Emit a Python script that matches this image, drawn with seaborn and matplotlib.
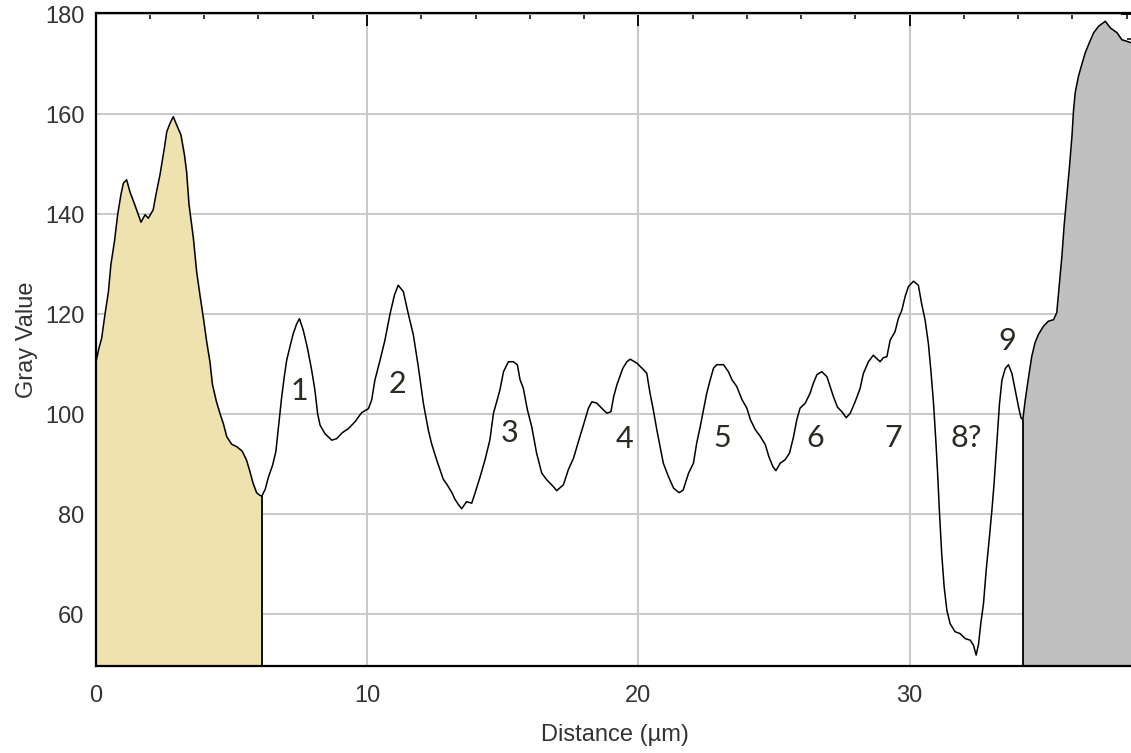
import numpy as np
import pandas as pd
import matplotlib
matplotlib.use("Agg")
import matplotlib.pyplot as plt
from matplotlib.ticker import MultipleLocator
import seaborn as sns

sns.set_style("white")
plt.rcParams['font.family'] = ['Liberation Sans', 'DejaVu Sans']

# profile
distance = [0.00, 0.12, 0.22, 0.34, 0.47, 0.56, 0.69, 0.81, 0.93, 1.02, 1.14, 1.26, 1.42, 1.55, 1.67,
            1.82, 1.94, 2.12, 2.22, 2.37, 2.53, 2.62, 2.74, 2.86, 2.98, 3.14, 3.27, 3.35, 3.44, 3.60,
            3.72, 3.84, 3.97, 4.09, 4.21, 4.30, 4.45, 4.60, 4.70, 4.83, 5.01, 5.20, 5.40, 5.56, 5.68,
            5.80, 5.93, 6.04, 6.12, 6.25, 6.36, 6.52, 6.64, 6.72, 6.78, 6.85, 6.95, 7.04, 7.16, 7.28,
            7.41, 7.51, 7.65, 7.81, 7.96, 8.08, 8.18, 8.27, 8.45, 8.70, 8.88, 9.09, 9.31, 9.56, 9.80,
            10.05, 10.17, 10.29, 10.48, 10.66, 10.85, 11.01, 11.15, 11.34, 11.52, 11.71, 11.89, 12.08,
            12.26, 12.38, 12.57, 12.81, 12.94, 13.12, 13.24, 13.37, 13.49, 13.67, 13.86, 13.98, 14.17,
            14.35, 14.53, 14.66, 14.78, 14.90, 15.03, 15.21, 15.39, 15.54, 15.64, 15.76, 15.91, 16.07,
            16.25, 16.44, 16.62, 16.87, 16.99, 17.24, 17.42, 17.61, 17.79, 17.98, 18.16, 18.29, 18.47,
            18.65, 18.84, 18.99, 19.09, 19.21, 19.43, 19.58, 19.70, 19.95, 20.19, 20.31, 20.43, 20.55,
            20.68, 20.80, 20.92, 21.11, 21.30, 21.50, 21.65, 21.85, 22.03, 22.15, 22.28, 22.40, 22.52,
            22.65, 22.77, 22.89, 23.14, 23.32, 23.45, 23.63, 23.82, 24.00, 24.13, 24.31, 24.50, 24.68,
            24.81, 24.96, 25.07, 25.23, 25.41, 25.57, 25.72, 25.84, 25.96, 26.15, 26.33, 26.45, 26.58,
            26.76, 26.95, 27.07, 27.19, 27.34, 27.50, 27.66, 27.81, 27.99, 28.17, 28.29, 28.48, 28.66,
            28.79, 28.91, 29.03, 29.16, 29.28, 29.46, 29.58, 29.71, 29.83, 29.95, 30.14, 30.32, 30.44,
            30.57, 30.69, 30.78, 30.88, 30.97, 31.03, 31.10, 31.18, 31.27, 31.37, 31.49, 31.67, 31.86,
            32.05, 32.23, 32.35, 32.45, 32.54, 32.62, 32.72, 32.82, 32.94, 33.03, 33.11, 33.21, 33.31,
            33.40, 33.52, 33.64, 33.77, 33.89, 34.01, 34.10, 34.17, 34.25, 34.37, 34.50, 34.62, 34.74,
            34.93, 35.11, 35.30, 35.42, 35.52, 35.61, 35.69, 35.79, 35.89, 35.98, 36.04, 36.10, 36.22,
            36.34, 36.47, 36.62, 36.78, 36.96, 37.21, 37.39, 37.64, 37.82, 38.00, 38.16]
gray = [110.2, 113.2, 115.2, 119.9, 124.5, 129.9, 134.5, 139.9, 143.9, 146.2, 146.9, 144.5, 142.2, 140.2, 138.4,
        139.9, 139.2, 140.9, 143.9, 147.9, 153.2, 156.5, 158.2, 159.5, 157.9, 155.9, 151.9, 148.5, 141.9, 135.2,
        128.5, 123.9, 119.2, 114.5, 110.5, 106.0, 102.5, 99.8, 98.2, 95.5, 94.0, 93.5, 92.6, 90.8, 88.6,
        86.2, 84.3, 83.8, 83.6, 85.0, 87.3, 89.8, 92.5, 96.5, 99.5, 103.2, 107.5, 110.8, 113.5, 116.1,
        118.1, 119.1, 116.8, 113.1, 108.8, 104.8, 100.1, 97.8, 96.1, 94.8, 95.1, 96.3, 97.1, 98.5, 100.3,
        101.1, 102.8, 106.8, 110.8, 114.8, 120.1, 123.8, 125.8, 124.5, 120.1, 115.8, 109.5, 102.1,
        96.8, 94.1, 90.8, 87.0, 86.0, 84.4, 83.0, 81.9, 81.1, 82.5, 82.2, 84.2, 87.5,
        90.9, 94.9, 100.2, 102.5, 104.9, 108.5, 110.5, 110.5, 109.9, 106.9, 105.2, 100.9, 97.5,
        92.2, 88.2, 86.9, 85.5, 84.7, 85.9, 88.9, 91.2, 94.5, 97.9, 101.2, 102.5, 102.2,
        101.2, 100.2, 100.5, 103.5, 105.9, 109.2, 110.5, 111.0, 110.2, 108.9, 108.2, 104.2, 100.9,
        96.9, 93.5, 90.2, 87.5, 85.2, 84.3, 84.8, 88.2, 90.2, 94.2, 97.5, 100.9, 104.2,
        106.9, 109.2, 109.9, 109.9, 108.5, 106.9, 105.5, 102.9, 101.2, 98.9, 96.9, 95.5, 93.9,
        91.5, 89.5, 88.7, 90.2, 90.9, 92.2, 95.5, 98.9, 101.2, 102.2, 104.2, 106.2, 107.9,
        108.5, 107.5, 105.5, 103.5, 101.4, 100.5, 99.3, 100.2, 102.5, 105.1, 108.1, 110.5, 111.8,
        111.1, 110.5, 111.3, 111.5, 114.8, 116.5, 119.1, 120.8, 123.5, 125.5, 126.6, 125.8, 122.1,
        118.8, 114.1, 108.8, 102.1, 94.1, 88.1, 80.1, 72.1, 65.5, 60.8, 58.1, 56.5, 56.1,
        55.1, 54.8, 53.8, 51.8, 54.1, 58.1, 62.1, 68.8, 75.5, 80.8, 86.1, 94.1, 102.1,
        106.8, 109.1, 109.9, 108.1, 104.8, 101.5, 99.3, 98.9, 102.5, 107.0, 111.6, 114.3, 115.9,
        117.6, 118.6, 118.9, 120.3, 126.3, 131.6, 137.6, 143.6, 149.6, 155.6, 160.9, 164.3, 167.6,
        169.9, 172.3, 174.3, 176.3, 177.6, 178.6, 177.3, 176.3, 174.9, 174.6, 174.3]

# shaded regions (µm)
left_region_end = 6.12
right_region_start = 34.17

# peak annotations
peak_labels = ["1", "2", "3", "4", "5", "6", "7", "8?", "9"]
peak_x = [7.49, 11.12, 15.27, 19.48, 23.10, 26.52, 29.40, 32.10, 33.58]
peak_y = [102.9, 104.2, 94.4, 93.2, 93.5, 93.5, 93.5, 93.5, 112.9]

df = pd.DataFrame({"Distance": distance, "Gray": gray})
y_low, y_high = 49.7, 180.2

fig = plt.figure(figsize=(11.31, 7.53), dpi=100)
ax = fig.add_axes([0.0846, 0.116, 0.9174, 0.8664])

left = df[df.Distance <= left_region_end]
right = df[df.Distance >= right_region_start]
ax.fill_between(left.Distance, left.Gray, y_low, color="#EEE2AE", zorder=1)
ax.fill_between(right.Distance, right.Gray, y_low, color="#C0C0C0", zorder=1)
ax.vlines([left.Distance.iloc[-1], right.Distance.iloc[0]], y_low,
          [left.Gray.iloc[-1], right.Gray.iloc[0]], color="black", lw=1.3, zorder=3)

sns.lineplot(data=df, x="Distance", y="Gray", color="black", lw=1.1,
             estimator=None, sort=False, ax=ax, zorder=3)

for lab, px, py in zip(peak_labels, peak_x, peak_y):
    ax.text(px, py, lab, ha="center", va="baseline", fontsize=22,
            family=["Lato", "DejaVu Sans"], color="#2e2a22", zorder=4)

ax.set_xlim(0, 38.24)
ax.set_ylim(y_low, y_high)
ax.xaxis.set_major_locator(MultipleLocator(10))
ax.xaxis.set_minor_locator(MultipleLocator(2))
ax.yaxis.set_major_locator(MultipleLocator(20))
ax.yaxis.set_minor_locator(MultipleLocator(5))
ax.grid(True, which="major", color="#C8C8C8", lw=1.4, zorder=0)
ax.set_axisbelow(True)
ax.tick_params(which="both", direction="in", top=True, right=True, color="black")
ax.tick_params(which="major", length=9, width=1.3, labelsize=17, labelcolor="#333333")
ax.tick_params(axis="x", which="major", pad=14)
ax.tick_params(axis="y", which="major", pad=8)
ax.tick_params(which="minor", length=4, width=1.1)
for s in ax.spines.values():
    s.set_color("black")
    s.set_linewidth(1.6)

ax.set_xlabel("Distance (µm)", fontsize=17, color="#333333", labelpad=12)
ax.set_ylabel("Gray Value", fontsize=17, color="#333333", labelpad=5)

fig.savefig("out.png", dpi=100)
